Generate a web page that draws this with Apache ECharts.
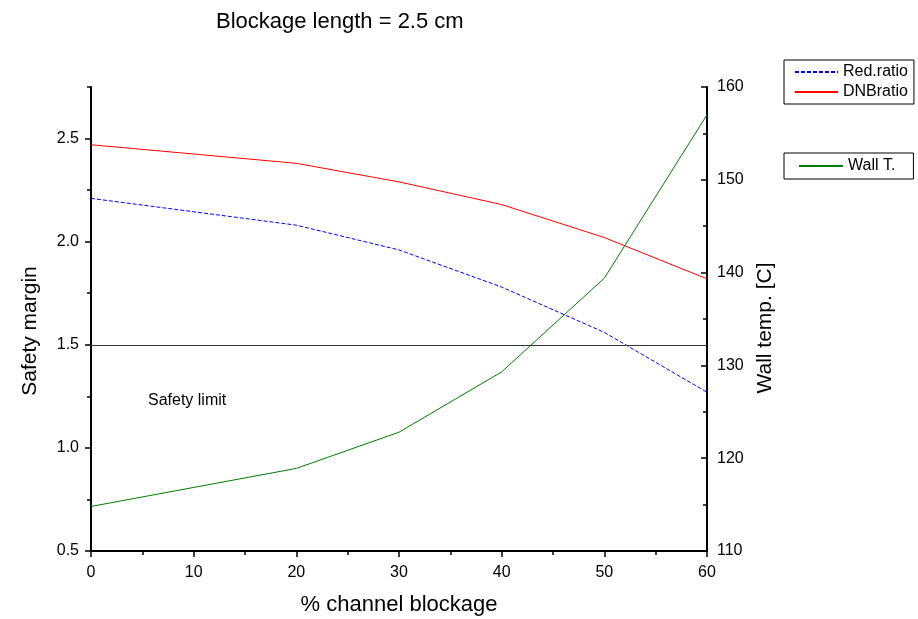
<!DOCTYPE html>
<html>
<head>
<meta charset="utf-8">
<script src="https://cdn.jsdelivr.net/npm/echarts@6/dist/echarts.min.js"></script>
<style>
  html, body { margin: 0; padding: 0; background: #fff; }
  #chart { width: 918px; height: 619px; }
</style>
</head>
<body>
<div id="chart"></div>
<script>
// % channel blockage
var blockage = [0, 20, 30, 40, 50, 60];
// safety margins (left axis)
var redRatio = [2.21, 2.08, 1.96, 1.78, 1.56, 1.27];
var dnbRatio = [2.47, 2.38, 2.29, 2.18, 2.02, 1.82];
// wall temperature [C] (right axis)
var wallTemp = [114.8, 118.9, 122.8, 129.3, 139.4, 157.0];
var safetyLimit = 1.5;
var marginTicks = [0.5, 1.0, 1.5, 2.0, 2.5];

function pairs(ys) {
  return ys.map(function (y, i) {
    return [blockage[i], y];
  });
}

var font = "Liberation Sans, Arial, sans-serif";
var black = "#000";

var chart = echarts.init(document.getElementById("chart"));

chart.setOption({
  backgroundColor: "#fff",
  animation: false,
  textStyle: { fontFamily: font },
  title: {
    text: "Blockage length = 2.5 cm",
    left: 211,
    top: 6,
    textStyle: { fontSize: 22, fontWeight: "normal", color: black, fontFamily: font },
  },
  grid: { left: 91, right: 211, top: 87, bottom: 68, outerBoundsMode: "none" },
  legend: [
    {
      data: ["Red.ratio", "DNBratio"],
      orient: "vertical",
      left: 784,
      top: 60,
      itemWidth: 43,
      itemHeight: 16,
      itemGap: 4,
      padding: [4, 6, 4, 10],
      borderColor: black,
      borderWidth: 1,
      itemStyle: { opacity: 0 },
      textStyle: { fontSize: 16, color: black, fontFamily: font },
    },
    {
      data: ["Wall T."],
      orient: "vertical",
      left: 784,
      top: 153,
      itemWidth: 44,
      itemHeight: 16,
      padding: [5, 18, 5, 14],
      borderColor: black,
      borderWidth: 1,
      itemStyle: { opacity: 0 },
      textStyle: { fontSize: 16, color: black, fontFamily: font },
    },
  ],
  xAxis: {
    type: "value",
    min: 0,
    max: 60,
    interval: 10,
    name: "% channel blockage",
    nameLocation: "middle",
    nameGap: 43,
    nameTextStyle: { fontSize: 22, color: black, fontFamily: font },
    axisLine: { lineStyle: { color: black, width: 2 } },
    axisTick: { length: 6, lineStyle: { color: black, width: 1.5 } },
    minorTick: { show: true, splitNumber: 2, length: 4, lineStyle: { color: black, width: 1.5 } },
    axisLabel: { fontSize: 16, color: black, margin: 14, fontFamily: font },
    splitLine: { show: false },
  },
  yAxis: [
    {
      type: "value",
      position: "left",
      min: 0.5,
      max: 2.75,
      interval: 0.5,
      name: "Safety margin",
      nameLocation: "middle",
      nameGap: 50,
      nameTextStyle: { fontSize: 21, color: black, fontFamily: font, padding: [0, 24, 0, 0] },
      axisLine: { show: true, lineStyle: { color: black, width: 2 } },
      axisTick: { show: true, length: 6, customValues: marginTicks, lineStyle: { color: black, width: 1.5 } },
      axisLabel: {
        fontSize: 16,
        color: black,
        margin: 12,
        fontFamily: font,
        customValues: marginTicks,
        formatter: function (v) {
          return v.toFixed(1);
        },
      },
      splitLine: { show: false },
    },
    {
      type: "value",
      position: "right",
      min: 110,
      max: 160,
      interval: 10,
      name: "Wall temp. [C]",
      nameLocation: "middle",
      nameGap: 47,
      nameTextStyle: { fontSize: 21, color: black, fontFamily: font, padding: [0, 18, 0, 0] },
      axisLine: { show: true, lineStyle: { color: black, width: 2 } },
      axisTick: { show: true, inside: true, length: 6, lineStyle: { color: black, width: 1.5 } },
      minorTick: { show: true, splitNumber: 2, length: 4, lineStyle: { color: black, width: 1.5 } },
      axisLabel: { fontSize: 16, color: black, margin: 10, fontFamily: font },
      splitLine: { show: false },
    },
    {
      // minor ticks of the left axis
      type: "value",
      position: "left",
      min: 0.5,
      max: 2.75,
      interval: 0.25,
      axisLine: { show: false },
      axisTick: { show: true, length: 4, lineStyle: { color: black, width: 1.5 } },
      axisLabel: { show: false },
      splitLine: { show: false },
    },
  ],
  graphic: [
    {
      type: "text",
      left: 148,
      top: 393,
      style: { text: "Safety limit", fontSize: 16, fill: black, fontFamily: font },
    },
  ],
  series: [
    {
      name: "Red.ratio",
      type: "line",
      yAxisIndex: 0,
      data: pairs(redRatio),
      symbol: "none",
      color: "#0000ff",
      lineStyle: { color: "#0000ff", width: 1, type: [4, 2] },
      markLine: {
        silent: true,
        symbol: "none",
        label: { show: false },
        lineStyle: { color: "#333", width: 1, type: "solid" },
        data: [{ yAxis: safetyLimit }],
      },
    },
    {
      name: "DNBratio",
      type: "line",
      yAxisIndex: 0,
      data: pairs(dnbRatio),
      symbol: "none",
      color: "#ff0000",
      lineStyle: { color: "#ff0000", width: 1 },
    },
    {
      name: "Wall T.",
      type: "line",
      yAxisIndex: 1,
      data: pairs(wallTemp),
      symbol: "none",
      color: "#008000",
      lineStyle: { color: "#008000", width: 1 },
    },
  ],
});
</script>
</body>
</html>
